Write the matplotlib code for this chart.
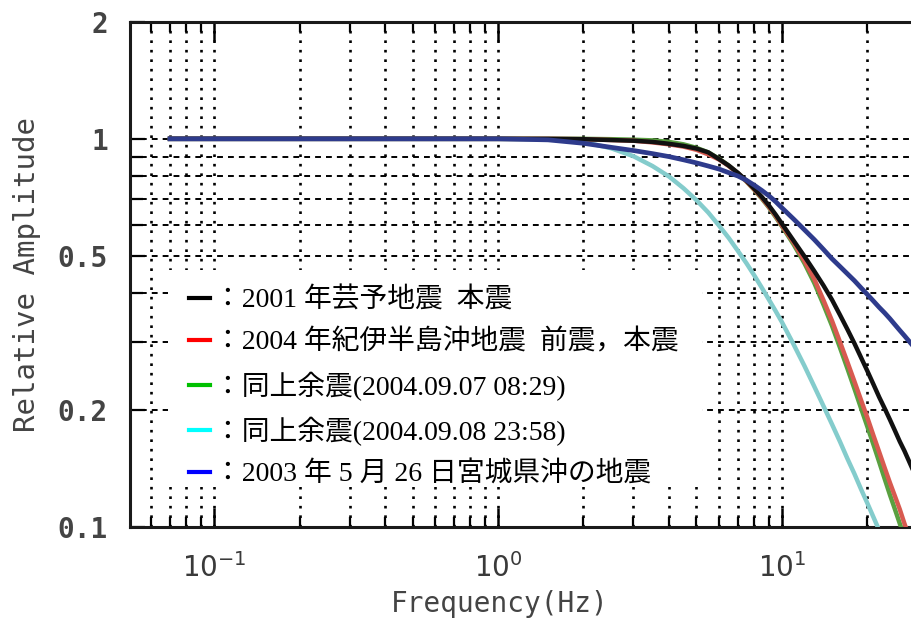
import matplotlib
matplotlib.use("Agg")
import matplotlib.pyplot as plt
from matplotlib.ticker import FixedLocator, NullFormatter, FixedFormatter, LogLocator
from matplotlib.lines import Line2D
from matplotlib.patches import Rectangle

# Frequency samples (Hz) shared by every response curve
freq = [0.07, 1.0, 1.5, 2.0, 2.5, 3.0, 3.5, 4.0, 4.5, 5.0, 5.5, 6.0, 6.5, 7.0,
        7.5, 8.0, 8.5, 9.0, 9.5, 10.0, 11.0, 12.0, 13.0, 14.0, 15.0, 16.0, 17.0,
        18.0, 19.0, 20.0, 21.0, 22.0, 23.0, 24.0, 25.0, 26.0, 27.0, 28.7]

# Relative amplitude of each event's response
amp_geiyo_2001 = [1.0, 1.0, 1.0, 0.998, 0.993, 0.989, 0.982, 0.971, 0.959, 0.944,
                  0.923, 0.887, 0.853, 0.817, 0.780, 0.743, 0.708, 0.673, 0.638,
                  0.604, 0.546, 0.498, 0.456, 0.419, 0.385, 0.352, 0.323, 0.297,
                  0.273, 0.252, 0.233, 0.216, 0.202, 0.189, 0.177, 0.166, 0.157,
                  0.142]
amp_kii_2004 = [1.0, 1.0, 1.0, 0.998, 0.993, 0.989, 0.979, 0.968, 0.955, 0.937,
                0.912, 0.885, 0.851, 0.815, 0.777, 0.740, 0.704, 0.668, 0.633,
                0.598, 0.540, 0.485, 0.435, 0.384, 0.340, 0.300, 0.266, 0.237,
                0.212, 0.191, 0.172, 0.156, 0.142, 0.130, 0.120, 0.111, 0.102,
                0.090]
amp_after_0907 = [1.0, 1.0, 1.0, 1.0, 0.998, 0.995, 0.991, 0.982, 0.968, 0.948,
                  0.923, 0.889, 0.853, 0.814, 0.776, 0.738, 0.701, 0.665, 0.629,
                  0.595, 0.534, 0.478, 0.425, 0.374, 0.330, 0.290, 0.256, 0.227,
                  0.202, 0.181, 0.163, 0.147, 0.133, 0.121, 0.111, 0.102, 0.094,
                  0.083]
amp_after_0908 = [1.0, 1.0, 0.998, 0.982, 0.946, 0.902, 0.851, 0.800, 0.746, 0.695,
                  0.646, 0.598, 0.555, 0.514, 0.478, 0.444, 0.413, 0.385, 0.360,
                  0.337, 0.295, 0.260, 0.230, 0.205, 0.184, 0.166, 0.150, 0.137,
                  0.125, 0.115, 0.106, 0.098, 0.091, 0.085, 0.079, 0.074, 0.069,
                  0.063]
amp_miyagi_2003 = [1.0, 1.0, 0.994, 0.974, 0.951, 0.933, 0.916, 0.900, 0.883, 0.867,
                   0.851, 0.836, 0.818, 0.802, 0.782, 0.759, 0.736, 0.713, 0.689,
                   0.664, 0.621, 0.583, 0.550, 0.519, 0.491, 0.469, 0.449, 0.431,
                   0.413, 0.397, 0.382, 0.368, 0.356, 0.344, 0.332, 0.321, 0.311,
                   0.295]

legend_labels = [
    "：2001 年芸予地震  本震",
    "：2004 年紀伊半島沖地震  前震，本震",
    "：同上余震(2004.09.07 08:29)",
    "：同上余震(2004.09.08 23:58)",
    "：2003 年 5 月 26 日宮城県沖の地震",
]
legend_colors = ["#000000", "#ff0000", "#00c000", "#00ffff", "#0000ff"]

y_ticks = [0.1, 0.2, 0.5, 1, 2]
y_tick_labels = ["0.1", "0.2", "0.5", "1", "2"]

W, H = 912, 627
fig = plt.figure(figsize=(W / 100, H / 100), dpi=100)
ax = fig.add_axes([130 / W, 1 - 527 / H, (W - 130) / W, (527 - 22) / H])
ax.set_xscale("log")
ax.set_yscale("log")
ax.set_xlim(0.0506, 28.7)
ax.set_ylim(0.1, 2)

# response curves
ax.plot(freq, amp_after_0908, color="#84cccc", lw=3.2, zorder=3)
ax.plot(freq, amp_after_0907, color="#5aa040", lw=3.2, zorder=3)
ax.plot(freq, amp_kii_2004, color="#d85a50", lw=3.2, zorder=3)
ax.plot(freq, amp_geiyo_2001, color="#111111", lw=3.2, zorder=3)
ax.plot(freq, amp_miyagi_2003, color="#2e3b8c", lw=3.4, zorder=3)

# axes, ticks and grid
ax.xaxis.set_major_locator(LogLocator(base=10, numticks=10))
ax.xaxis.set_minor_locator(LogLocator(base=10, subs=range(2, 10), numticks=30))
ax.xaxis.set_minor_formatter(NullFormatter())
ax.yaxis.set_major_locator(FixedLocator(y_ticks))
ax.yaxis.set_major_formatter(FixedFormatter(y_tick_labels))
ax.yaxis.set_minor_locator(FixedLocator([0.3, 0.4, 0.6, 0.7, 0.8, 0.9]))
ax.yaxis.set_minor_formatter(NullFormatter())

ax.xaxis.grid(True, which="both", color="black", lw=1.9, linestyle=(0, (1.0, 2.6)))
ax.yaxis.grid(True, which="both", color="black", lw=1.4, linestyle=(0, (3.0, 2.6)))

ax.tick_params(axis="x", which="major", direction="in", length=14, width=1.8,
               top=True, bottom=True, pad=19, labelsize=20, labelcolor="#3a3a3a")
ax.tick_params(axis="x", which="minor", direction="in", length=7, width=1.6,
               top=True, bottom=True)
ax.tick_params(axis="y", which="major", direction="in", length=11, width=1.6,
               left=True, right=False, pad=16, labelsize=20, labelcolor="#444444")
ax.tick_params(axis="y", which="minor", direction="in", length=9, width=1.6,
               left=True, right=False)
for lab in ax.get_yticklabels():
    lab.set_fontfamily("DejaVu Sans Mono")
    lab.set_fontweight("bold")

for side in ("left", "bottom", "top"):
    ax.spines[side].set_linewidth(2.2)
    ax.spines[side].set_color("#1a1a1a")
ax.spines["right"].set_visible(False)

ax.set_xlabel("Frequency(Hz)", family="DejaVu Sans Mono", fontsize=20,
              color="#444444", labelpad=1)
ax.xaxis.set_label_coords((500 - 130) / (W - 130), -0.125)
ax.set_ylabel("Relative Amplitude", family="DejaVu Sans Mono", fontsize=21,
              color="#444444", labelpad=12)

# legend panel
ax.add_patch(Rectangle((168 / W, 1 - 487 / H), (702 - 168) / W, (487 - 270) / H,
                       transform=fig.transFigure, facecolor="white",
                       edgecolor="none", zorder=4))
handles = [Line2D([], [], color=c, lw=3.0) for c in legend_colors]
leg = fig.legend(handles, legend_labels, loc="upper left",
                 bbox_to_anchor=(189 / W, 1 - 288 / H), frameon=False,
                 handlelength=0.75, handletextpad=0.15, labelspacing=0.57,
                 borderpad=0, borderaxespad=0,
                 prop={"family": ["Liberation Serif", "Noto Sans CJK JP"], "size": 20})
leg.set_zorder(5)

fig.savefig("out.png", dpi=100)
